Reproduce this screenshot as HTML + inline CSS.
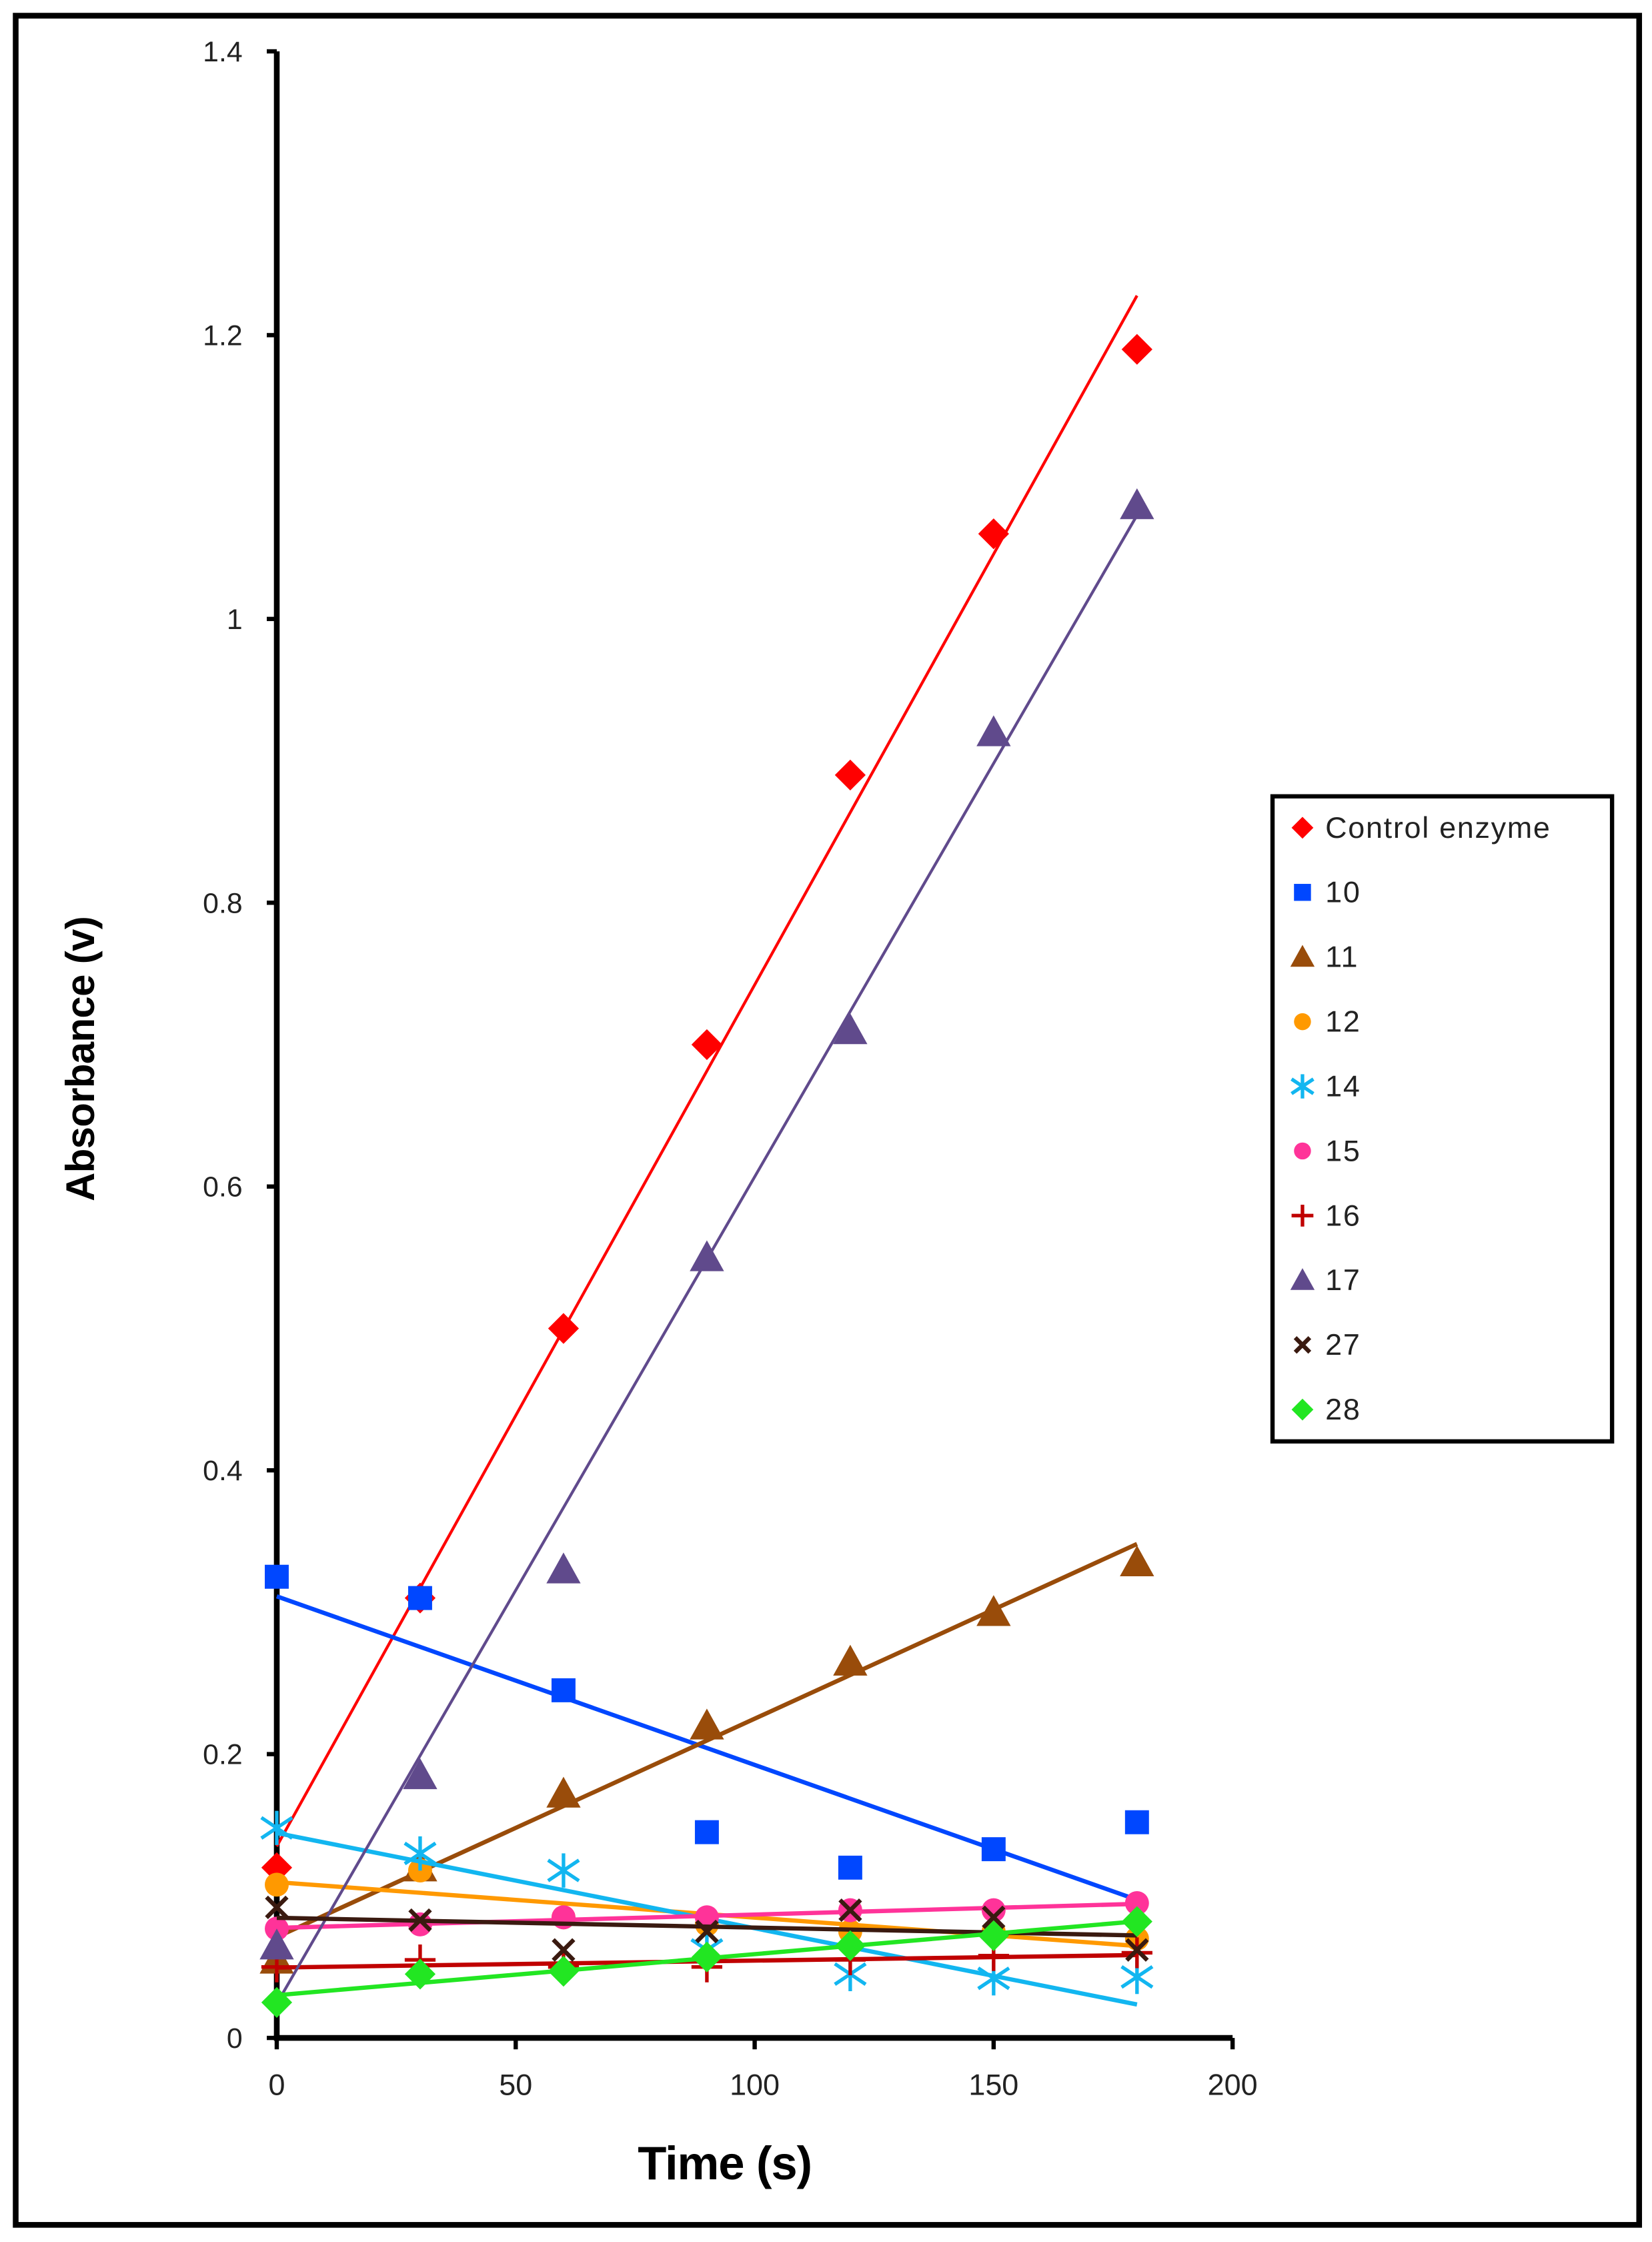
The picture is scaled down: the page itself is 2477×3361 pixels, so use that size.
<!DOCTYPE html>
<html><head><meta charset="utf-8"><style>
html,body{margin:0;padding:0;background:#fff;}
svg{display:block;}
text{font-family:"Liberation Sans",sans-serif;}
</style></head><body>
<svg id="chart" width="2477" height="3361" viewBox="0 0 1158 1571" preserveAspectRatio="none" xmlns="http://www.w3.org/2000/svg">
<rect x="11" y="11" width="1138" height="1548" fill="#fff" stroke="#000" stroke-width="4"/>
<g id="axes"></g>
<g id="series"></g>
<g id="legend"></g>
</svg>
<script>
const times = [0,30,60,90,120,150,180];
const seriesNames = ["Control enzyme","10","11","12","14","15","16","17","27","28"];
const sControl = [0.12,0.31,0.50,0.70,0.89,1.06,1.19];
const s10 = [0.325,0.31,0.245,0.145,0.12,0.133,0.152];
const s11 = [0.055,0.12,0.172,0.22,0.265,0.30,0.335];
const s12 = [0.108,0.118,0.085,0.08,0.075,0.075,0.07];
const s14 = [0.148,0.13,0.118,0.062,0.045,0.042,0.043];
const s15 = [0.077,0.08,0.085,0.085,0.09,0.09,0.095];
const s16 = [0.05,0.055,0.05,0.05,0.055,0.058,0.06];
const s17 = [0.065,0.185,0.33,0.55,0.71,0.92,1.08];
const s27 = [0.092,0.083,0.062,0.075,0.09,0.085,0.062];
const s28 = [0.025,0.045,0.047,0.057,0.065,0.072,0.082];
const yTicks = [0,0.2,0.4,0.6,0.8,1,1.2,1.4];
const xTicks = [0,50,100,150,200];

const NS="http://www.w3.org/2000/svg";
const X=t=>194+t*3.35;
const Y=v=>1428-v*994.3;
function mk(tag,attrs,parent){const e=document.createElementNS(NS,tag);for(const k in attrs)e.setAttribute(k,attrs[k]);parent.appendChild(e);return e;}
const axes=document.getElementById('axes');
const ya=mk('line',{x1:X(0),y1:Y(1.4),x2:X(0),y2:Y(0),stroke:'#000','stroke-width':4},axes);


const xa=mk('line',{x1:X(0)-2,y1:Y(0),x2:X(200),y2:Y(0),stroke:'#000','stroke-width':4},axes);


yTicks.forEach(v=>{
  mk('line',{x1:X(0)-7,y1:Y(v),x2:X(0),y2:Y(v),stroke:'#000','stroke-width':3},axes);
  const t=mk('text',{x:170,y:Y(v)+7,'text-anchor':'end','font-size':20,fill:'#222'},axes);
  t.textContent=String(v);
  
  
});
xTicks.forEach(v=>{
  mk('line',{x1:X(v),y1:Y(0),x2:X(v),y2:Y(0)+8,stroke:'#000','stroke-width':3},axes);
  const t=mk('text',{x:X(v),y:1468,'text-anchor':'middle','font-size':21,fill:'#222'},axes);
  t.textContent=String(v);
  
  
});
const xt=mk('text',{x:508,y:1527,'text-anchor':'middle','font-size':33,'font-weight':'bold',fill:'#000','letter-spacing':-0.5},axes);
xt.textContent='Time (s)';


const yt=mk('text',{x:0,y:0,'text-anchor':'middle','font-size':28,'font-weight':'bold',fill:'#000','letter-spacing':-0.3,transform:'translate(66,742) rotate(-90)'},axes);
yt.textContent='Absorbance (v)';



const datas=[sControl,s10,s11,s12,s14,s15,s16,s17,s27,s28];
const colors=['#ff0000','#0047ff','#994c0a','#ff9900','#12b6f0','#ff3399','#c00000','#604a8c','#3a1a10','#22e622'];
const shapes=['diamond','square','triangle','circle','asterisk','circle','plus','triangle','x','diamond'];
function marker(g,shape,cx,cy,c,s){
  s=s||1;let e;
  if(shape==='diamond')e=mk('polygon',{points:`${cx},${cy-9*s} ${cx+9*s},${cy} ${cx},${cy+9*s} ${cx-9*s},${cy}`,fill:c},g);
  else if(shape==='square')e=mk('rect',{x:cx-7*s,y:cy-7*s,width:14*s,height:14*s,fill:c},g);
  else if(shape==='triangle')e=mk('polygon',{points:`${cx},${cy-10*s} ${cx+10*s},${cy+8*s} ${cx-10*s},${cy+8*s}`,fill:c},g);
  else if(shape==='circle')e=mk('circle',{cx:cx,cy:cy,r:7*s,fill:c},g);
  else if(shape==='plus')e=mk('path',{d:`M${cx-9*s},${cy}H${cx+9*s}M${cx},${cy-9*s}V${cy+9*s}`,stroke:c,'stroke-width':2.5},g);
  else if(shape==='x')e=mk('path',{d:`M${cx-6*s},${cy-6*s}L${cx+6*s},${cy+6*s}M${cx+6*s},${cy-6*s}L${cx-6*s},${cy+6*s}`,stroke:c,'stroke-width':3},g);
  else e=mk('path',{d:`M${cx-9*s},${cy-6*s}L${cx+9*s},${cy+6*s}M${cx+9*s},${cy-6*s}L${cx-9*s},${cy+6*s}M${cx},${cy-10*s}V${cy+10*s}`,stroke:c,'stroke-width':2.5},g);
  return e;
}
function fit(d){const n=d.length;let mx=0,my=0;for(let i=0;i<n;i++){mx+=times[i];my+=d[i];}mx/=n;my/=n;let sxy=0,sxx=0;for(let i=0;i<n;i++){sxy+=(times[i]-mx)*(d[i]-my);sxx+=(times[i]-mx)**2;}const b=sxy/sxx;return [my-b*mx,b];}
const sg=document.getElementById('series');
datas.forEach((d,k)=>{
  const g=mk('g',{},sg);
  
  
  const [a,b]=fit(d);
  const tl=mk('line',{x1:X(0),y1:Y(a),x2:X(180),y2:Y(a+b*180),stroke:colors[k],'stroke-width':k===0||k===7?2:3},g);
  
  
  d.forEach((v,i)=>{
    const m=marker(g,shapes[k],X(times[i]),Y(v),colors[k],1.2);
    
    
  });
});
const lg=document.getElementById('legend');
const lb=mk('rect',{x:892,y:558,width:238,height:452,fill:'#fff',stroke:'#000','stroke-width':3},lg);


seriesNames.forEach((n,k)=>{
  const y=580+k*45.3;
  const g=mk('g',{},lg);
  
  
  marker(g,shapes[k],913,y,colors[k],0.85);
  const t=mk('text',{x:929,y:y+7,'font-size':21,fill:'#222','letter-spacing':0.8},g);
  t.textContent=n;
});
</script>
</body></html>
